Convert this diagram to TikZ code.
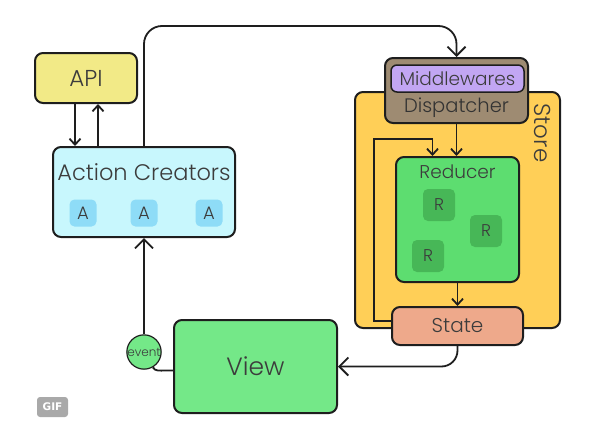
\documentclass[tikz,border=0pt]{standalone}
\usepackage{fontspec}
\setmainfont{Poppins Light}
\newfontfamily\giffont{DejaVu Sans}
\usetikzlibrary{arrows.meta}
\definecolor{apiC}{HTML}{F2EA87}
\definecolor{acC}{HTML}{C8F7FD}
\definecolor{aC}{HTML}{8EDCF7}
\definecolor{dispC}{HTML}{9E8B72}
\definecolor{midC}{HTML}{C2A6F3}
\definecolor{storeC}{HTML}{FFCF57}
\definecolor{redC}{HTML}{5DDD70}
\definecolor{rC}{HTML}{47B757}
\definecolor{stateC}{HTML}{EEA98B}
\definecolor{viewC}{HTML}{74E888}
\definecolor{txtC}{HTML}{3C3C3C}
\definecolor{lineC}{HTML}{1E1E1E}
\definecolor{gifC}{HTML}{A9A9A9}
\newcommand{\fs}[1]{\fontsize{#1}{#1}\selectfont}
\begin{document}
\begin{tikzpicture}[x=1pt,y=1pt,
  box/.style={draw=lineC, line width=2pt, rounded corners=8pt, inner sep=0pt},
  smallbox/.style={rounded corners=5pt, inner sep=0pt, text=txtC},
  lbl/.style={text=txtC, inner sep=0pt},
  arr/.style={draw=lineC, line width=1.8pt, -{Straight Barb[length=6pt,width=11pt]}},
  bigarr/.style={draw=lineC, line width=1.8pt, -{Straight Barb[length=9pt,width=18pt]}},
  ln/.style={draw=lineC, line width=1.8pt}]
\useasboundingbox (0,0) rectangle (600,-431);
% API
\node[box, fill=apiC, minimum width=102, minimum height=50, lbl, font=\fs{23}] (api) at (86,-78) {API};
% Action creators
\node[box, fill=acC, minimum width=182, minimum height=90] (ac) at (144,-192) {};
\node[lbl, font=\fs{22.5}] (actxt) at (144,-172) {Action Creators};
\node[smallbox, fill=aC, minimum size=27, font=\fs{18}] (a1) at (83,-213) {A};
\node[smallbox, fill=aC, minimum size=27, font=\fs{18}] (a2) at (144,-213) {A};
\node[smallbox, fill=aC, minimum size=27, font=\fs{18}] (a3) at (209,-213) {A};
% Store
\node[box, fill=storeC, minimum width=205, minimum height=236] (store) at (457.5,-210) {};
\node[lbl, rotate=-90, font=\fs{23}] (storetxt) at (543,-133) {Store};
% Dispatcher
\node[box, fill=dispC, minimum width=143, minimum height=65] (disp) at (456.5,-90.5) {};
\node[lbl, font=\fs{19.5}, text=black!80] (disptxt) at (456.5,-107.5) {Dispatcher};
\node[box, line width=1.5pt, rounded corners=6pt, fill=midC, minimum width=133, minimum height=27, lbl, font=\fs{18.5}] (mid) at (457.5,-78.5) {Middlewares};
% Reducer
\node[box, fill=redC, minimum width=123, minimum height=125] (red) at (457.5,-219.5) {};
\node[lbl, font=\fs{18.5}] (redtxt) at (457.5,-172) {Reducer};
\node[smallbox, fill=rC, minimum size=32, font=\fs{17}] (r1) at (439,-205) {R};
\node[smallbox, fill=rC, minimum size=32, font=\fs{17}] (r2) at (486,-231) {R};
\node[smallbox, fill=rC, minimum size=32, font=\fs{17}] (r3) at (428,-256) {R};
% State
\node[box, fill=stateC, minimum width=131, minimum height=38, lbl, font=\fs{20}] (state) at (457.5,-326) {State};
% View
\node[box, fill=viewC, minimum width=163, minimum height=93, lbl, font=\fs{25}] (view) at (255.5,-366.5) {View};
% event
\node[circle, draw=lineC, line width=1.2pt, fill=viewC, minimum size=34, inner sep=0pt, text=txtC, font=\fs{12}] (ev) at (144,-352) {event};
% GIF badge
\node[rounded corners=3pt, fill=gifC, minimum width=31, minimum height=20, inner sep=0pt, text=white, font=\giffont\bfseries\fs{10.5}] (gif) at (52.5,-407) {GIF};
% connectors
\draw[arr] ([xshift=-11pt]api.south) -- ([xshift=-11pt]api.south |- ac.north);
\draw[arr] ([xshift=12pt]api.south |- ac.north) -- ([xshift=12pt]api.south);
\draw[bigarr, rounded corners=18pt] (ac.north) -- (ac.north |- 0,-26) -- (disp.north |- 0,-26) -- (disp.north);
\draw[arr] (disp.south) -- (disp.south |- red.north);
\draw[arr] ([yshift=5pt]state.west) -- ++(-17,0) |- ([xshift=-25pt]red.north |- 0,-139) -- ([xshift=-25pt]red.north);
\draw[arr] (red.south) -- (red.south |- state.north);
\draw[bigarr, rounded corners=16pt] (state.south) |- (view.east);
\draw[ln] ([yshift=-4pt]view.west) -- ++(-8,0) to[out=180,in=-60] (ev.-60);
\draw[bigarr] (ev.north) -- (ac.south);
\end{tikzpicture}
\end{document}
